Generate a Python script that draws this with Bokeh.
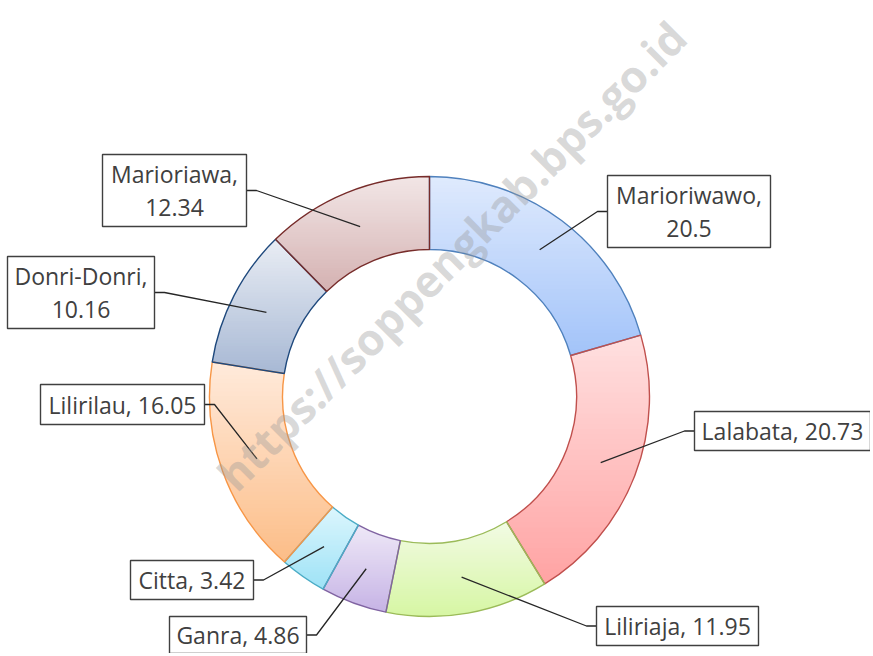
import numpy as np
from bokeh.plotting import figure
from bokeh.models import ColumnDataSource
from bokeh.core.properties import value
from bokeh.embed import file_html
from bokeh.resources import INLINE

# ---------------- data ----------------
districts = ["Marioriwawo", "Lalabata", "Liliriaja", "Ganra", "Citta",
             "Lilirilau", "Donri-Donri", "Marioriawa"]
shares = [20.5, 20.73, 11.95, 4.86, 3.42, 16.05, 10.16, 12.34]
share_labels = ["20.5", "20.73", "11.95", "4.86", "3.42", "16.05", "10.16", "12.34"]

# ---------------- styles ----------------
top_colors = ["#dfeafd", "#ffe0e0", "#f2fbe4", "#eee8f7", "#dcf6fd",
              "#ffeadb", "#e9edf4", "#f2e6e6"]
bottom_colors = ["#a2c3f9", "#ffa3a3", "#d6f6a3", "#c6b3e5", "#9de2f6",
                 "#fcbd87", "#a7b8d4", "#d4b1b1"]
border_colors = ["#4f81bd", "#c0504d", "#9bbb59", "#8064a2", "#4bacc6",
                 "#f79646", "#1f497d", "#772c2a"]
two_line = [True, False, False, False, False, False, True, True]

OFF = 1
W, H = 870, 653
def X(px):
    return px - OFF
def Y(py):
    return H - (py - OFF)

CX, CY = X(430), Y(397)
R_OUT, R_IN = 220, 147

# label boxes in page pixels: x0, y0, x1, y1, side where leader attaches
boxes = [
    (608, 176, 771, 248, "left"),
    (695, 412, 871, 451, "left"),
    (597, 607, 759, 646, "left"),
    (170, 617, 307, 654, "right"),
    (131, 561, 254, 600, "right"),
    (41, 385, 205, 425, "right"),
    (8, 257, 155, 329, "right"),
    (103, 155, 247, 227, "right"),
]

p = figure(width=W, height=H, x_range=(0, W), y_range=(0, H),
           x_axis_type=None, y_axis_type=None, toolbar_location=None,
           output_backend="svg", min_border=0, outline_line_color=None,
           background_fill_color="white", border_fill_color="white")
p.grid.visible = False

# ---------------- gradient filled ring slices ----------------
def hex2rgb(h):
    h = h.lstrip("#")
    return np.array([int(h[i:i + 2], 16) for i in (0, 2, 4)], dtype=float)

def rgb2hex(c):
    return "#%02x%02x%02x" % tuple(int(round(v)) for v in c)

def clip_half(pts, keep, yc):
    out = []
    n = len(pts)
    for i in range(n):
        cur, prev = pts[i], pts[i - 1]
        kc, kp = keep(cur), keep(prev)
        if kc:
            if not kp:
                t = (yc - prev[1]) / (cur[1] - prev[1])
                out.append((prev[0] + t * (cur[0] - prev[0]), yc))
            out.append(cur)
        elif kp:
            t = (yc - prev[1]) / (cur[1] - prev[1])
            out.append((prev[0] + t * (cur[0] - prev[0]), yc))
    return out

total = sum(shares)
cum = np.concatenate([[0], np.cumsum(shares)]) / total * 2 * np.pi  # clockwise from top
band_xs, band_ys, band_cols = [], [], []
N_BANDS = 48
for i in range(len(shares)):
    a0, a1 = cum[i], cum[i + 1]
    phi = np.linspace(a0, a1, 120)
    outer = [(CX + R_OUT * np.sin(f), CY + R_OUT * np.cos(f)) for f in phi]
    inner = [(CX + R_IN * np.sin(f), CY + R_IN * np.cos(f)) for f in phi[::-1]]
    poly = outer + inner
    ys = [q[1] for q in poly]
    ymin, ymax = min(ys), max(ys)
    ct, cb = hex2rgb(top_colors[i]), hex2rgb(bottom_colors[i])
    edges = np.linspace(ymin, ymax, N_BANDS + 1)
    for k in range(N_BANDS):
        lo, hi = edges[k] - 0.4, edges[k + 1] + 0.4
        pc = clip_half(poly, lambda q: q[1] >= lo, lo)
        if len(pc) < 3:
            continue
        pc = clip_half(pc, lambda q: q[1] <= hi, hi)
        if len(pc) < 3:
            continue
        t = 1 - ((edges[k] + edges[k + 1]) / 2 - ymin) / (ymax - ymin)
        band_xs.append([q[0] for q in pc])
        band_ys.append([q[1] for q in pc])
        band_cols.append(rgb2hex(ct + (cb - ct) * t))

p.patches(band_xs, band_ys, fill_color=band_cols, line_color=None)

# outlines
starts = [np.pi / 2 - a for a in cum[:-1]]
ends = [np.pi / 2 - a for a in cum[1:]]
ring = ColumnDataSource(dict(start=starts, end=ends, col=border_colors))
p.annular_wedge(x=CX, y=CY, inner_radius=R_IN, outer_radius=R_OUT,
                start_angle="start", end_angle="end", direction="clock",
                fill_color=None, line_color="col", line_width=1.4, source=ring)

# ---------------- leaders, boxes, labels ----------------
R_MID = (R_IN + R_OUT) / 2
lx, ly = [], []
bl, br, bt, bb = [], [], [], []
t_x, t_y, t_txt = [], [], []
for i, (x0, y0, x1, y1, side) in enumerate(boxes):
    mid = (cum[i] + cum[i + 1]) / 2
    ex, ey = CX + R_MID * np.sin(mid), CY + R_MID * np.cos(mid)
    my = Y((y0 + y1) / 2)
    if side == "left":
        edge = X(x0)
        elbow = edge - 10
    else:
        edge = X(x1)
        elbow = edge + 10
    lx.append([ex, elbow, edge])
    ly.append([ey, my, my])
    bl.append(X(x0)); br.append(X(x1)); bt.append(Y(y0)); bb.append(Y(y1))
    cxb = X((x0 + x1) / 2)
    if two_line[i]:
        t_x += [cxb, cxb]
        t_y += [my + 16.5, my - 16.5]
        t_txt += [districts[i] + ",", share_labels[i]]
    else:
        t_x.append(cxb)
        t_y.append(my)
        t_txt.append(districts[i] + ", " + share_labels[i])

p.multi_line(lx, ly, line_color="#262626", line_width=1.3)
p.quad(left=bl, right=br, top=bt, bottom=bb, fill_color="white",
       line_color="#404040", line_width=1.4)
p.text(x=t_x, y=t_y, text=t_txt, text_font=value("Open Sans"),
       text_font_size=value("23px"), text_color="#404040",
       text_align="center", text_baseline="middle")

# ---------------- watermark ----------------
p.text(x=[X(452)], y=[Y(256)], text=["https://soppengkab.bps.go.id"],
       angle=np.pi / 4, text_font=value("Open Sans"), text_font_style="bold",
       text_font_size=value("44px"), text_color="#9a9a9a", text_alpha=0.38,
       text_align="center", text_baseline="middle")

open("out.html", "w").write(file_html(p, INLINE))
